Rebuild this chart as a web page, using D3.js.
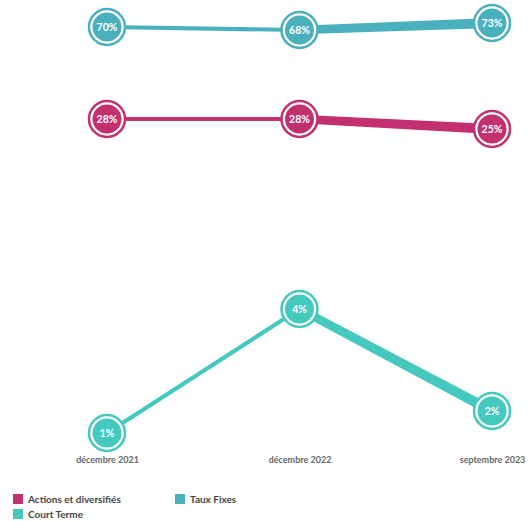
<!DOCTYPE html>
<html>
<head>
<meta charset="utf-8">
<script src="https://cdn.jsdelivr.net/npm/d3@7"></script>
<style>
  body { margin: 0; background: #fff; }
  svg { display: block; font-family: Lato, "Open Sans", sans-serif; }
</style>
</head>
<body>
<svg id="chart"></svg>
<script>
const categories = ['décembre 2021', 'décembre 2022', 'septembre 2023'];
const seriesNames = ['Actions et diversifiés', 'Taux Fixes', 'Court Terme'];
const seriesColors = ['#c2306f', '#4bb0bd', '#45c9bf'];
const actionsValues = [28, 28, 25];
const tauxFixesValues = [70, 68, 73];
const courtTermeValues = [1, 4, 2];

const width = 528;
const height = 521;

const svg = d3.select('#chart')
  .attr('width', width)
  .attr('height', height);

const series = [
  { name: seriesNames[0], color: seriesColors[0], values: actionsValues },
  { name: seriesNames[1], color: seriesColors[1], values: tauxFixesValues },
  { name: seriesNames[2], color: seriesColors[2], values: courtTermeValues },
];

// x: point scale over the dates
const xScale = d3.scalePoint()
  .domain(categories)
  .range([107, 492]);

// y: piecewise scale, the original spreads the small values out
const yScale = d3.scaleLinear()
  .domain([1, 2, 4, 25, 28, 68, 70, 73])
  .range([433, 411, 309, 129, 119, 30, 27, 23]);

// lines get thicker toward the right
const widthScale = d3.scaleLinear()
  .domain([0, categories.length - 1])
  .range([4, 10]);

series.forEach(s => {
  const g = svg.append('g');

  // tapered segments
  for (let i = 0; i < s.values.length - 1; i++) {
    const x0 = xScale(categories[i]), y0 = yScale(s.values[i]);
    const x1 = xScale(categories[i + 1]), y1 = yScale(s.values[i + 1]);
    const w0 = widthScale(i) + (i > 0 ? 1.5 : 0);
    const w1 = widthScale(i + 1) * (i === 0 ? 0.6 : 1);
    const len = Math.hypot(x1 - x0, y1 - y0);
    const nx = -(y1 - y0) / len, ny = (x1 - x0) / len;
    const pts = [
      [x0 + nx * w0 / 2, y0 + ny * w0 / 2],
      [x1 + nx * w1 / 2, y1 + ny * w1 / 2],
      [x1 - nx * w1 / 2, y1 - ny * w1 / 2],
      [x0 - nx * w0 / 2, y0 - ny * w0 / 2],
    ];
    g.append('path')
      .attr('d', d3.line()(pts) + 'Z')
      .attr('fill', s.color);
  }

  const dots = g.selectAll('g.dot')
    .data(s.values)
    .enter()
    .append('g')
    .attr('transform', (d, i) => `translate(${xScale(categories[i])},${yScale(d)})`);

  dots.append('circle')
    .attr('r', 18)
    .attr('fill', '#fff')
    .attr('stroke', s.color)
    .attr('stroke-width', 2.5);

  dots.append('circle')
    .attr('r', 14.5)
    .attr('fill', s.color);

  dots.append('text')
    .attr('text-anchor', 'middle')
    .attr('dy', '0.35em')
    .attr('fill', '#fff')
    .attr('font-size', 10.5)
    .attr('font-weight', 'bold')
    .text(d => d + '%');
});

// x axis labels
const xAxis = d3.axisBottom(xScale).tickSize(0).tickPadding(0);
const axisG = svg.append('g')
  .attr('transform', 'translate(0,457)')
  .call(xAxis);
axisG.select('.domain').remove();
axisG.selectAll('text')
  .attr('fill', '#666')
  .attr('font-size', 9)
  .attr('font-weight', 'bold')
  .attr('font-family', 'Lato, "Open Sans", sans-serif');

// legend
const legendPos = [[13, 494], [175, 494], [13, 509]];
const legend = svg.append('g')
  .selectAll('g')
  .data(series)
  .enter()
  .append('g')
  .attr('transform', (d, i) => `translate(${legendPos[i][0]},${legendPos[i][1]})`);

legend.append('rect')
  .attr('width', 10)
  .attr('height', 10)
  .attr('fill', d => d.color);

legend.append('text')
  .attr('x', 15)
  .attr('y', 8.5)
  .attr('font-size', 10)
  .attr('font-weight', 'bold')
  .attr('fill', '#444')
  .text(d => d.name);
</script>
</body>
</html>
